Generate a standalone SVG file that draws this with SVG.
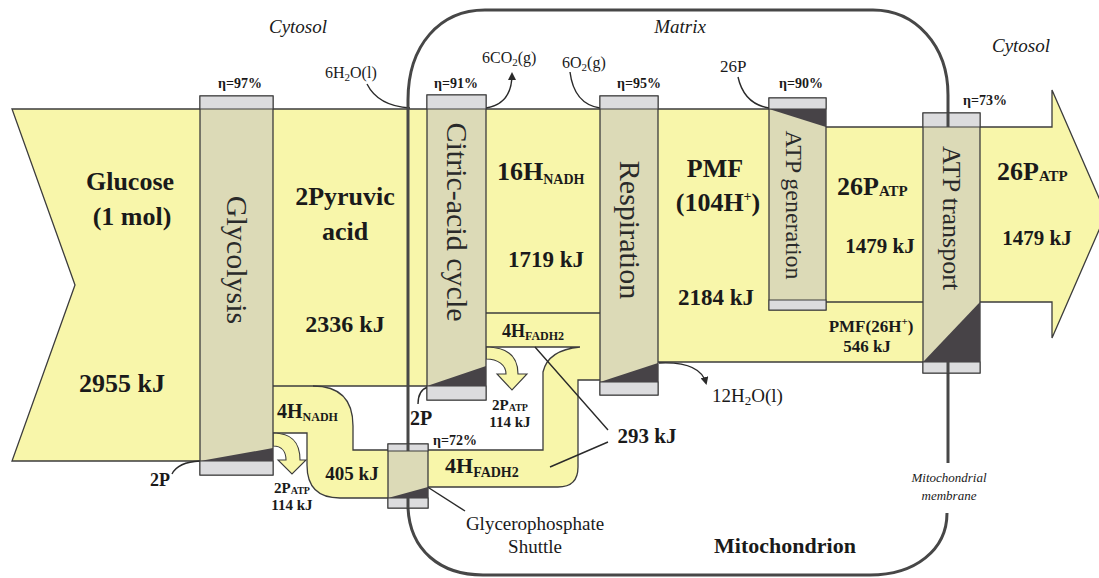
<svg xmlns="http://www.w3.org/2000/svg" width="1099" height="578" viewBox="0 0 1099 578">
<defs>
<style>
.band{fill:#f8f6aa;stroke:none}
.edge{fill:none;stroke:#3c3c3c;stroke-width:1.3}
.yarrow{fill:#f8f6aa;stroke:#3c3c3c;stroke-width:1.1}
.box{fill:#dcdab7;stroke:#3c3c3c;stroke-width:1.3}
.cap{fill:#dcdcde;stroke:#3c3c3c;stroke-width:1}
.tri{fill:#474347}
.mem{fill:none;stroke:#474747;stroke-width:3}
.ann{fill:none;stroke:#2a2a2a;stroke-width:1.4}
.t{font-family:"Liberation Serif","Times New Roman",serif;fill:#1a1a1a}
.b{font-weight:bold}
.it{font-style:italic}
.rot{font-size:30px;text-anchor:middle;dominant-baseline:central;fill:#2a2a2a}
</style>
<marker id="ah" markerWidth="8" markerHeight="8" refX="6" refY="4" orient="auto" markerUnits="userSpaceOnUse">
<path d="M0,0 L8,4 L0,8 Z" fill="#2a2a2a"/>
</marker>
</defs>
<rect width="1099" height="578" fill="#ffffff"/>

<g id="flows">
<path class="band" d="M12,109 H200 V461 H12 L75,285 Z"/>
<path class="band" fill-rule="evenodd" d="M273,109 H600 V380 H578 V467 Q578,487 558,487 H428 V498 H340 Q307,498 307,465 V433 H273 Z M313,386 H486 V347 H580 Q548,350 543,372 V450 H353 V426 Q353,386 313,386 Z"/>
<path class="band" d="M658,109 H826 V127 H923 V362 H658 Z"/>
<path class="band" d="M980,127 H1052 V90 L1106,214 L1052,338 V302 H980 Z"/>
<path class="edge" d="M200,109 H12 L75,285 L12,461 H200"/>
<path class="edge" d="M273,109 H826 M826,127 H1052 V90 L1106,214 L1052,338 V302 H980"/>
<path class="edge" d="M273,386 H427"/>
<path class="edge" d="M313,386 Q353,386 353,426 V450 H388"/>
<path class="edge" d="M273,433 H307 V465 Q307,498 340,498 H388"/>
<path class="edge" d="M428,450 H543 V372 Q548,350 580,347 M486,347 H580"/>
<path class="edge" d="M428,487 H558 Q578,487 578,467 V380 H600"/>
<path class="edge" d="M486,313 H600"/>
<path class="edge" d="M658,362 H923 M826,302 H923"/>
<path class="yarrow" d="M273,433 C292,433 300,442 300,460 L306,460 L292,474 L278,460 L286,460 C286,452 282,446 273,446 Z"/>
<path class="yarrow" d="M486,347 C508,347 518,356 518,374 L527,374 L512,390 L497,374 L506,374 C506,365 498,359 486,359 Z"/>
<path class="ann" d="M367,84 Q378,106 410,108"/>
<path class="ann" d="M486,108 Q512,104 512,74" marker-end="url(#ah)"/>
<path class="ann" d="M570,72 Q574,104 600,108"/>
<path class="ann" d="M738,77 Q744,104 769,108"/>
<path class="ann" d="M659,363 Q700,361 706,383" marker-end="url(#ah)"/>
<path class="ann" d="M172,474 Q178,462 200,461"/>
<path class="ann" d="M418,404 Q418,390 428,387"/>
<path class="ann" d="M465,511 L415,479" marker-end="url(#ah)"/>
<path class="ann" stroke-width="1.2" d="M535,347 L608,430 M550,467 L608,442"/>
</g>

<g id="membrane">
<path class="mem" d="M408,451 V100 C408,45 440,10 485,10 H873 C915,10 948,45 948,95 V127"/>
<path class="mem" d="M948,362 V463"/>
<path class="mem" d="M408,498 V508 C410,550 440,575 483,575 H870 C915,575 947,550 947,513"/>
</g>

<g id="glycolysis">
<rect class="box" x="200" y="96" width="73" height="379"/>
<rect class="cap" x="200" y="96" width="73" height="13"/>
<rect class="cap" x="200" y="461" width="73" height="14"/>
<path class="tri" d="M200,461 L273,448 L273,461 Z"/>
<text class="t rot" transform="translate(237,260) rotate(90)">Glycolysis</text>
</g>

<g id="citric">
<rect class="box" x="427" y="95" width="59" height="305"/>
<rect class="cap" x="427" y="95" width="59" height="14"/>
<rect class="cap" x="427" y="386" width="59" height="14"/>
<path class="tri" d="M427,386 L486,366 L486,386 Z"/>
<text class="t rot" transform="translate(457,222) rotate(90)">Citric-acid cycle</text>
</g>

<g id="respiration">
<rect class="box" x="600" y="96" width="58" height="299"/>
<rect class="cap" x="600" y="96" width="58" height="13"/>
<rect class="cap" x="600" y="382" width="58" height="13"/>
<path class="tri" d="M600,382 L658,363 L658,382 Z"/>
<text class="t rot" transform="translate(630,230) rotate(90)">Respiration</text>
</g>

<g id="atpgen">
<rect class="box" x="769" y="98" width="57" height="212"/>
<rect class="cap" x="769" y="98" width="57" height="11"/>
<rect class="cap" x="769" y="300" width="57" height="10"/>
<path class="tri" d="M769,109 L826,109 L826,127 Z"/>
<text class="t rot" style="font-size:24px" transform="translate(794,205) rotate(90)">ATP generation</text>
</g>

<g id="atptransport">
<rect class="box" x="923" y="113" width="57" height="260"/>
<rect class="cap" x="923" y="113" width="57" height="14"/>
<rect class="cap" x="923" y="362" width="57" height="11"/>
<path class="tri" d="M923,362 L980,302 L980,362 Z"/>
<text class="t rot" style="font-size:26px" transform="translate(951,218) rotate(90)">ATP transport</text>
</g>

<g id="shuttle">
<rect class="box" x="388" y="444" width="40" height="64"/>
<rect class="cap" x="388" y="444" width="40" height="7"/>
<rect class="cap" x="388" y="498" width="40" height="10"/>
<path class="tri" d="M388,498 L428,487 L428,498 Z"/>
</g>
<path class="mem" d="M408,444 V451 M408,498 V508 M948,113 V127 M948,362 V373"/>

<g id="labels">
<text class="t it" x="298" y="33" font-size="19" text-anchor="middle">Cytosol</text>
<text class="t it" x="680" y="33" font-size="19" text-anchor="middle">Matrix</text>
<text class="t it" x="1021" y="52" font-size="19" text-anchor="middle">Cytosol</text>

<text class="t b" x="240" y="88" font-size="14" text-anchor="middle">η=97%</text>
<text class="t b" x="456" y="88" font-size="14" text-anchor="middle">η=91%</text>
<text class="t b" x="639" y="88" font-size="14" text-anchor="middle">η=95%</text>
<text class="t b" x="801" y="88" font-size="14" text-anchor="middle">η=90%</text>
<text class="t b" x="985" y="105" font-size="14" text-anchor="middle">η=73%</text>
<text class="t b" x="455" y="445" font-size="14" text-anchor="middle">η=72%</text>

<text class="t" x="325" y="78" font-size="16">6H<tspan font-size="11" dy="3">2</tspan><tspan dy="-3">O(l)</tspan></text>
<text class="t" x="482" y="63" font-size="16">6CO<tspan font-size="11" dy="3">2</tspan><tspan dy="-3">(g)</tspan></text>
<text class="t" x="562" y="68" font-size="16">6O<tspan font-size="11" dy="3">2</tspan><tspan dy="-3">(g)</tspan></text>
<text class="t" x="720" y="72" font-size="17">26P</text>
<text class="t" x="712" y="402" font-size="19">12H<tspan font-size="13" dy="3">2</tspan><tspan dy="-3">O(l)</tspan></text>

<text class="t b" x="130" y="190" font-size="26" text-anchor="middle">Glucose</text>
<text class="t b" x="132" y="225" font-size="26" text-anchor="middle">(1 mol)</text>
<text class="t b" x="122" y="392" font-size="26" text-anchor="middle">2955 kJ</text>

<text class="t b" x="345" y="205" font-size="26" text-anchor="middle">2Pyruvic</text>
<text class="t b" x="345" y="240" font-size="26" text-anchor="middle">acid</text>
<text class="t b" x="345" y="332" font-size="24" text-anchor="middle">2336 kJ</text>

<text class="t b" x="497" y="180" font-size="26">16H<tspan font-size="14" dy="4">NADH</tspan></text>
<text class="t b" x="546" y="267" font-size="23" text-anchor="middle">1719 kJ</text>
<text class="t b" x="502" y="337" font-size="18">4H<tspan font-size="12" dy="3">FADH2</tspan></text>

<text class="t b" x="715" y="177" font-size="26" text-anchor="middle">PMF</text>
<text class="t b" x="718" y="211" font-size="26" text-anchor="middle">(104H<tspan font-size="14" dy="-10">+</tspan><tspan dy="10">)</tspan></text>
<text class="t b" x="716" y="305" font-size="23" text-anchor="middle">2184 kJ</text>

<text class="t b" x="837" y="195" font-size="26">26P<tspan font-size="15" dy="1">ATP</tspan></text>
<text class="t b" x="880" y="253" font-size="21" text-anchor="middle">1479 kJ</text>
<text class="t b" x="871" y="332" font-size="17" text-anchor="middle">PMF(26H<tspan font-size="11" dy="-7">+</tspan><tspan dy="7">)</tspan></text>
<text class="t b" x="867" y="352" font-size="17" text-anchor="middle">546 kJ</text>

<text class="t b" x="997" y="180" font-size="26">26P<tspan font-size="15" dy="1">ATP</tspan></text>
<text class="t b" x="1037" y="245" font-size="21" text-anchor="middle">1479 kJ</text>

<text class="t b" x="277" y="418" font-size="20">4H<tspan font-size="12" dy="3">NADH</tspan></text>
<text class="t b" x="352" y="480" font-size="19" text-anchor="middle">405 kJ</text>
<text class="t b" x="445" y="473" font-size="22">4H<tspan font-size="14" dy="4">FADH2</tspan></text>
<text class="t b" x="647" y="443" font-size="21" text-anchor="middle">293 kJ</text>

<text class="t b" x="160" y="486" font-size="18" text-anchor="middle">2P</text>
<text class="t b" x="421" y="425" font-size="20" text-anchor="middle">2P</text>
<text class="t b" x="292" y="493" font-size="15" text-anchor="middle">2P<tspan font-size="10" dy="1">ATP</tspan></text>
<text class="t b" x="292" y="510" font-size="15" text-anchor="middle">114 kJ</text>
<text class="t b" x="510" y="410" font-size="15" text-anchor="middle">2P<tspan font-size="10" dy="1">ATP</tspan></text>
<text class="t b" x="510" y="427" font-size="15" text-anchor="middle">114 kJ</text>

<text class="t" x="535" y="530" font-size="19" text-anchor="middle" fill="#3a3a3a">Glycerophosphate</text>
<text class="t" x="535" y="553" font-size="19" text-anchor="middle" fill="#3a3a3a">Shuttle</text>
<text class="t b" x="785" y="553" font-size="22" text-anchor="middle">Mitochondrion</text>
<text class="t it" x="949" y="482" font-size="13" text-anchor="middle">Mitochondrial</text>
<text class="t it" x="949" y="500" font-size="13" text-anchor="middle">membrane</text>
</g>
</svg>
